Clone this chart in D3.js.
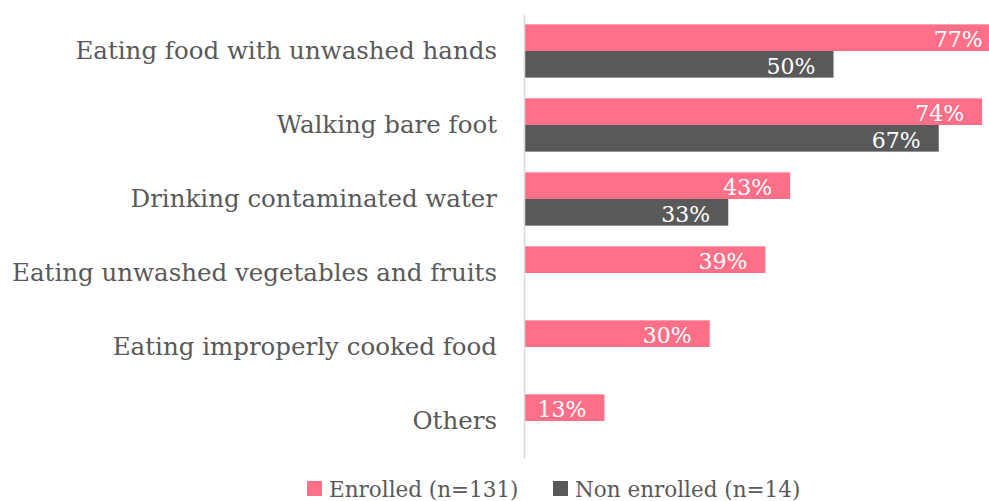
<!DOCTYPE html>
<html><head><meta charset="utf-8">
<script src="https://cdn.jsdelivr.net/npm/d3@7"></script>
<style>body{margin:0;background:#fff;}svg{display:block;}</style>
</head><body>
<svg id="c" width="989" height="501"></svg>
<script>
const categories = ["Eating food with unwashed hands","Walking bare foot","Drinking contaminated water","Eating unwashed vegetables and fruits","Eating improperly cooked food","Others"];
const enrolled = [77,74,43,39,30,13];
const nonEnrolled = [50,67,33,null,null,null];
const seriesNames = ["Enrolled (n=131)","Non enrolled (n=14)"];
const colors = ["#FF7088","#595959"];

const svg = d3.select("#c");
const font = "'DejaVu Serif', 'Liberation Serif', serif";
const textColor = "#595959";
const x0 = 524;
const x = d3.scaleLinear().domain([0,100]).range([x0, x0+619]);
const y = d3.scaleBand().domain(categories).range([14,458]).paddingInner(0.28).paddingOuter(0.14);
const y1 = d3.scaleBand().domain([0,1]).range([0,y.bandwidth()]);

const data = categories.map((c,i)=>({c, vals:[enrolled[i], nonEnrolled[i]]}));

const g = svg.append("g");
data.forEach(d=>{
  d.vals.forEach((v,k)=>{
    if(v==null) return;
    const yy = y(d.c)+y1(k);
    g.append("rect").attr("x",x(0)).attr("y",yy).attr("width",x(v)-x(0)).attr("height",y1.bandwidth()).attr("fill",colors[k]);
    g.append("text").attr("x",Math.min(x(v),1001)-18).attr("y",yy+y1.bandwidth()/2+2)
      .attr("text-anchor","end").attr("dominant-baseline","central")
      .attr("fill","#fff").style("font-family",font).style("font-size","22px").text(v+"%");
  });
});

// axis
const axis = d3.axisLeft(y).tickSize(0).tickPadding(27);
const ag = svg.append("g").attr("transform",`translate(${x0},0)`).call(axis);
ag.select(".domain").attr("stroke","#d9d9d9").attr("stroke-width",1.5);
ag.selectAll("text").style("font-family",font).style("font-size","24.5px").attr("fill",textColor);

// legend
const leg = svg.append("g");
const legX = [307,553];
seriesNames.forEach((n,k)=>{
  leg.append("rect").attr("x",legX[k]).attr("y",481).attr("width",15).attr("height",15).attr("fill",colors[k]);
  leg.append("text").attr("x",legX[k]+22).attr("y",489).attr("dominant-baseline","central")
    .style("font-family",font).style("font-size","21.5px").attr("fill",textColor).text(n);
});
</script>
</body></html>
